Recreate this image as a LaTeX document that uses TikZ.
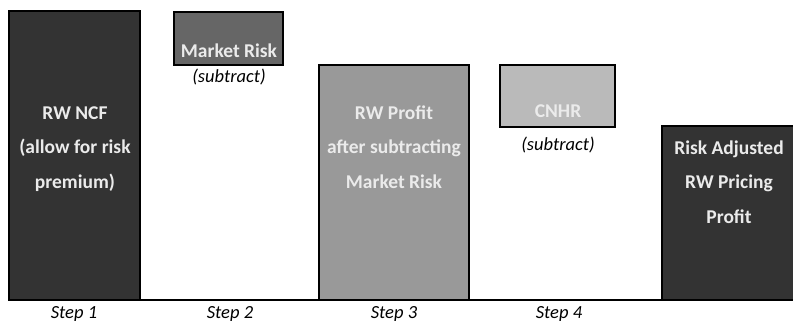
\documentclass[tikz,border=0pt]{standalone}
\usepackage{fontspec}
\setmainfont{Carlito}
\begin{document}
\begin{tikzpicture}[x=1pt, y=-1pt,
    barbox/.style={draw=black, line width=1.6pt},
    barlabel/.style={text=white!92!black, font=\bfseries\fontsize{19.5}{34.5}\selectfont, align=center, inner sep=0pt},
    note/.style={font=\itshape\fontsize{18.5}{20}\selectfont, inner sep=0pt, anchor=base}]
  \useasboundingbox (0,0) rectangle (793,326);
  \coordinate (B0) at (9,300);
  \coordinate (B1) at (793,300);
  \draw[barbox, fill=black!80] (9,11) rectangle (140,300);
  \draw[barbox, fill=black!60] (174,12) rectangle (283,65);
  \draw[barbox, fill=black!40] (319,65) rectangle (469,300);
  \draw[barbox, fill=black!27] (500,65) rectangle (615,127);
  \draw[barbox, fill=black!80] (662,126) rectangle (794,300);
  \draw[line width=1.6pt] (B0) -- (B1);
  \node[barlabel] (ncf) at (75,149) {RW NCF\\(allow for risk\\premium)};
  \node[barlabel, anchor=base] (mkt) at (229,58) {Market Risk};
  \node[barlabel] (profit) at (394,147) {RW Profit\\after subtracting\\Market Risk};
  \node[barlabel, anchor=base] (cnhr) at (558,118) {CNHR};
  \node[barlabel] (adj) at (729,182) {Risk Adjusted\\RW Pricing\\Profit};
  \node[note] (sub1) at (229,83) {(subtract)};
  \node[note] (sub2) at (558,151) {(subtract)};
  \node[note] (s1) at (74,318) {Step 1};
  \node[note] (s2) at (230,318) {Step 2};
  \node[note] (s3) at (394,318) {Step 3};
  \node[note] (s4) at (559,318) {Step 4};
\end{tikzpicture}
\end{document}
